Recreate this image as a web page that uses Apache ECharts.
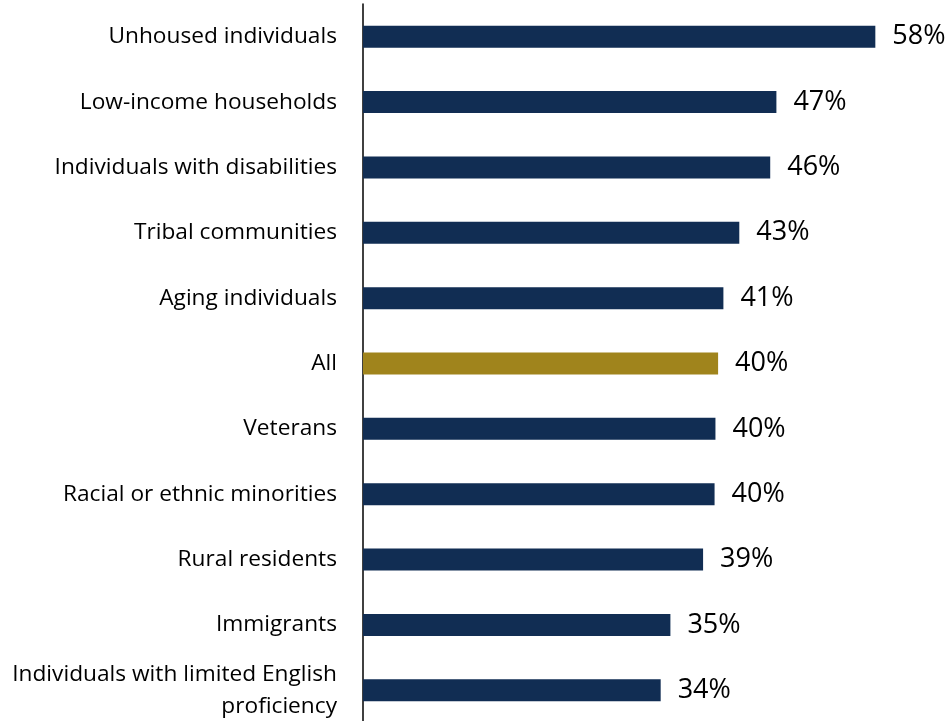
<!DOCTYPE html>
<html><head><meta charset="utf-8">
<script src="https://cdn.jsdelivr.net/npm/echarts@6/dist/echarts.min.js"></script>
<style>html,body{margin:0;padding:0;background:#fff}#c{width:951px;height:721px}</style>
</head><body><div id="c"></div>
<script>
const categories = ["Unhoused individuals","Low-income households","Individuals with disabilities","Tribal communities","Aging individuals","All","Veterans","Racial or ethnic minorities","Rural residents","Immigrants","Individuals with limited English\nproficiency"];
const values = [58, 46.8, 46.1, 42.6, 40.8, 40.2, 39.9, 39.8, 38.5, 34.8, 33.7];
const highlight = "All";
const navy = "#112D53", gold = "#A0841C";
const chart = echarts.init(document.getElementById('c'), null, {renderer:'canvas'});
chart.setOption({
  animation:false,
  grid:{left:363, width:530, top:4, height:719, containLabel:false, outerBoundsMode:'none'},
  xAxis:{type:'value', min:0, max:60, show:false},
  yAxis:{type:'category', data:categories, inverse:true,
    axisLine:{show:true, lineStyle:{color:'#000', width:1.5}},
    axisTick:{show:false},
    axisLabel:{margin:26, fontFamily:'Open Sans', fontSize:22.7, color:'#000', lineHeight:32, align:'right', padding:[12,0,0,0]}
  },
  series:[{type:'bar', barWidth:22,
    data: values.map((v,i)=>({value:v, itemStyle:{color: categories[i]===highlight?gold:navy}})),
    label:{show:true, position:'right', distance:17, fontFamily:'Open Sans', fontSize:27, color:'#000', padding:[13,0,0,0],
      formatter:p=>Math.round(p.value)+'%'}
  }]
});
</script></body></html>
